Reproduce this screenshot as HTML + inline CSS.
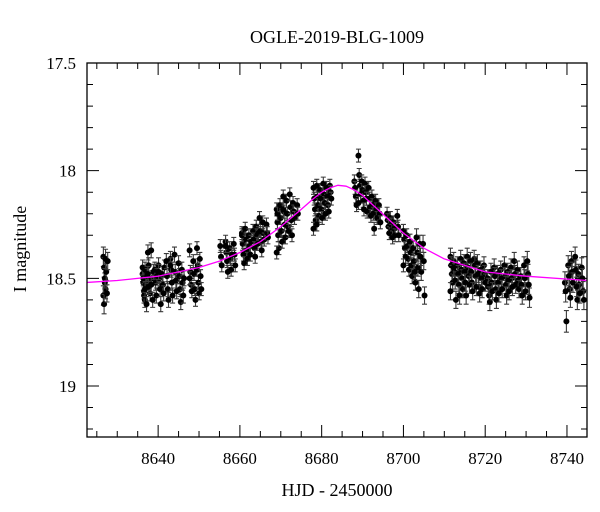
<!DOCTYPE html>
<html><head><meta charset="utf-8"><style>
html,body{margin:0;padding:0;background:#fff;}
svg{display:block;font-family:"Liberation Serif",serif;}
</style></head><body>
<svg id="chart" width="600" height="512">
<text x="337" y="43" font-size="18" text-anchor="middle">OGLE-2019-BLG-1009</text>
<text x="337" y="496" font-size="18" text-anchor="middle">HJD - 2450000</text>
<text transform="translate(26,249) rotate(-90)" font-size="18" text-anchor="middle">I magnitude</text>
<g id="plot"></g>
</svg>
<script>
const xTicks=[8640,8660,8680,8700,8720,8740];
const yTicks=[17.5,18,18.5,19];
const yTickLabels=["17.5","18","18.5","19"];
const modelT=[8622,8630,8640,8645,8650,8655,8660,8665,8670,8675,8678,8680,8682,8684,8686,8688,8690,8692,8694,8696,8700,8705,8710,8715,8720,8730,8745];
const modelM=[18.52,18.51,18.49,18.47,18.45,18.42,18.38,18.33,18.26,18.18,18.13,18.10,18.08,18.068,18.072,18.09,18.115,18.15,18.185,18.22,18.29,18.36,18.41,18.44,18.47,18.49,18.51];
const nightHJD=[8626.6,8627.3,8636.2,8636.8,8637.5,8638.3,8639.2,8640.1,8641.0,8642.0,8643.0,8644.0,8645.0,8645.8,8647.7,8648.6,8649.5,8650.2,8655.2,8656.5,8657.5,8658.5,8660.5,8661.3,8662.2,8663.2,8664.0,8664.8,8665.6,8666.5,8669.0,8669.8,8670.6,8671.4,8672.2,8673.0,8674.0,8678.0,8678.8,8679.6,8680.4,8681.2,8682.0,8688.0,8689.0,8689.8,8690.6,8691.5,8692.3,8693.2,8694.0,8696.0,8696.8,8697.6,8698.5,8700.0,8700.8,8701.6,8702.4,8703.2,8704.0,8704.8,8711.5,8712.3,8713.2,8714.0,8714.8,8715.6,8716.4,8717.3,8718.1,8718.9,8719.7,8720.6,8721.4,8722.2,8723.0,8723.8,8724.7,8725.5,8726.3,8727.1,8727.9,8728.7,8729.5,8730.3,8739.5,8740.3,8741.1,8742.0,8742.8,8743.6];
const nightMag=[[18.40,18.45,18.52,18.55,18.58,18.62,18.50,18.41],[18.47,18.57,18.42],[18.48,18.52,18.56,18.60,18.45,18.50,18.58],[18.46,18.53,18.62,18.49,18.55],[18.38,18.44,18.51,18.57,18.48,18.54],[18.37,18.50,18.60,18.47,18.53],[18.46,18.52,18.58,18.49],[18.44,18.50,18.55,18.62,18.47],[18.48,18.53,18.57,18.45],[18.42,18.49,18.55,18.60],[18.41,18.46,18.52,18.58,18.44],[18.39,18.47,18.51,18.56],[18.43,18.49,18.55,18.61],[18.46,18.52,18.58,18.50],[18.37,18.47,18.53,18.56,18.50],[18.42,18.48,18.55,18.60],[18.36,18.44,18.52,18.57,18.46],[18.41,18.49,18.55],[18.35,18.40,18.44],[18.33,18.38,18.42,18.47,18.35],[18.36,18.41,18.46,18.39],[18.34,18.39,18.44],[18.29,18.34,18.39,18.43,18.30],[18.27,18.32,18.37,18.41],[18.30,18.35,18.39,18.33],[18.28,18.32,18.36,18.40],[18.26,18.30,18.34,18.29],[18.22,18.28,18.33,18.37],[18.24,18.29,18.32],[18.25,18.29,18.31],[18.18,18.24,18.30,18.36,18.38,18.20],[18.16,18.22,18.28,18.33],[18.12,18.19,18.25,18.31,18.18],[18.14,18.20,18.26,18.28],[18.11,18.17,18.23,18.30],[18.15,18.19,18.22],[18.16,18.20],[18.08,18.13,18.18,18.23,18.27],[18.07,18.12,18.16,18.21,18.25],[18.09,18.13,18.18,18.22],[18.06,18.11,18.15,18.20],[18.08,18.12,18.16,18.19],[18.07,18.10,18.13],[18.05,18.08,18.12,18.16],[17.93,18.02,18.07,18.11,18.15],[18.05,18.09,18.14,18.18],[18.06,18.10,18.13,18.19],[18.08,18.13,18.17,18.21],[18.12,18.16,18.20,18.27],[18.14,18.18,18.22],[18.16,18.20,18.24],[18.20,18.23,18.26,18.29],[18.22,18.25,18.28,18.31],[18.24,18.27,18.30],[18.21,18.26,18.30],[18.28,18.32,18.36,18.40,18.44],[18.30,18.35,18.41,18.46],[18.33,18.38,18.44,18.49],[18.36,18.42,18.47,18.52],[18.31,18.38,18.45,18.55],[18.34,18.40,18.47],[18.34,18.42,18.58],[18.40,18.44,18.48,18.52,18.56],[18.42,18.47,18.51,18.60,18.45],[18.44,18.48,18.53,18.58],[18.41,18.46,18.50,18.55],[18.43,18.47,18.52,18.58],[18.40,18.45,18.49,18.53],[18.42,18.47,18.52,18.56],[18.41,18.44,18.49,18.54],[18.43,18.48,18.54,18.57],[18.46,18.50,18.55],[18.44,18.48,18.52],[18.50,18.54,18.58,18.61],[18.47,18.52,18.56],[18.45,18.49,18.55,18.60],[18.48,18.52,18.57],[18.46,18.50,18.55],[18.44,18.49,18.53,18.58],[18.47,18.51,18.56],[18.45,18.50,18.54],[18.42,18.48,18.53],[18.46,18.51,18.55],[18.49,18.53,18.58],[18.44,18.50,18.56],[18.42,18.48,18.53,18.59],[18.52,18.56,18.70],[18.44,18.49,18.55,18.59],[18.42,18.47,18.52],[18.40,18.46,18.54,18.60],[18.48,18.53,18.57],[18.45,18.50,18.56,18.60]];
const nightErr=[0.045,0.04,0.035,0.035,0.035,0.035,0.035,0.035,0.035,0.035,0.035,0.035,0.035,0.035,0.03,0.03,0.03,0.03,0.03,0.03,0.03,0.03,0.03,0.03,0.03,0.03,0.03,0.03,0.03,0.03,0.03,0.03,0.03,0.03,0.03,0.03,0.03,0.03,0.03,0.03,0.03,0.03,0.03,0.03,0.03,0.03,0.03,0.03,0.03,0.03,0.03,0.03,0.03,0.03,0.03,0.03,0.03,0.035,0.035,0.04,0.04,0.04,0.04,0.04,0.04,0.04,0.04,0.04,0.04,0.04,0.04,0.04,0.04,0.04,0.04,0.04,0.04,0.04,0.04,0.04,0.04,0.04,0.04,0.04,0.04,0.045,0.05,0.045,0.045,0.045,0.045,0.045];

const L=87,R=587,T=63,B=437;
const tMin=8622.6,tMax=8744.9,mTop=17.5,mBot=19.237;
const X=t=>L+(t-tMin)/(tMax-tMin)*(R-L);
const Y=m=>T+(m-mTop)/(mBot-mTop)*(B-T);
const NS='http://www.w3.org/2000/svg';
const g=document.getElementById('plot');
function mk(tag,attrs,parent){const e=document.createElementNS(NS,tag);for(const k in attrs)e.setAttribute(k,attrs[k]);(parent||g).appendChild(e);return e;}

const pts=mk('g',{});


nightHJD.forEach((t0,i)=>{
  nightMag[i].forEach((m,j)=>{
    const t=t0+(j%4)*0.18;
    const x=X(t),y=Y(m),e=Y(m+nightErr[i])-y;
    const eb=mk('path',{d:`M${x},${y-e}V${y+e}M${x-2.5},${y-e}h5M${x-2.5},${y+e}h5`,stroke:'#3a3a3a','stroke-width':1.1,fill:'none'},pts);
    
    
    const c=mk('circle',{cx:x,cy:y,r:3,fill:'#000'},pts);
    
    
  });
});

let d='';
modelT.forEach((t,i)=>{d+=(i?'L':'M')+X(t).toFixed(1)+','+Y(modelM[i]).toFixed(1);});
const cp=mk('clipPath',{id:'clip'});mk('rect',{x:L,y:T,width:R-L,height:B-T},cp);
const model=mk('path',{d:d,stroke:'#ff00ff','stroke-width':1.3,fill:'none','stroke-linejoin':'round','clip-path':'url(#clip)'});



const frame=mk('rect',{x:L,y:T,width:R-L,height:B-T,fill:'none',stroke:'#000','stroke-width':1.3});



for(let t=8625;t<=8744;t+=5){
  const major=(t%20===0);const len=major?12:6;const x=X(t);
  const tk=mk('path',{d:`M${x},${B}v${-len}M${x},${T}v${len}`,stroke:'#000','stroke-width':1});
  
  
}
xTicks.forEach(t=>{
  const tx=mk('text',{x:X(t),y:B+27,'font-size':17,'text-anchor':'middle'});tx.textContent=t;
  
  
});
for(let k=0;k<=17;k++){
  const m=17.5+k*0.1;if(m>mBot)break;
  const major=(k%5===0);const len=major?12:6;const y=Y(m);
  const tk=mk('path',{d:`M${L},${y}h${len}M${R},${y}h${-len}`,stroke:'#000','stroke-width':1});
  
  
}
yTicks.forEach((m,i)=>{
  const tx=mk('text',{x:L-11,y:Y(m)+6,'font-size':17,'text-anchor':'end'});tx.textContent=yTickLabels[i];
  
  
});
</script>
</body></html>
